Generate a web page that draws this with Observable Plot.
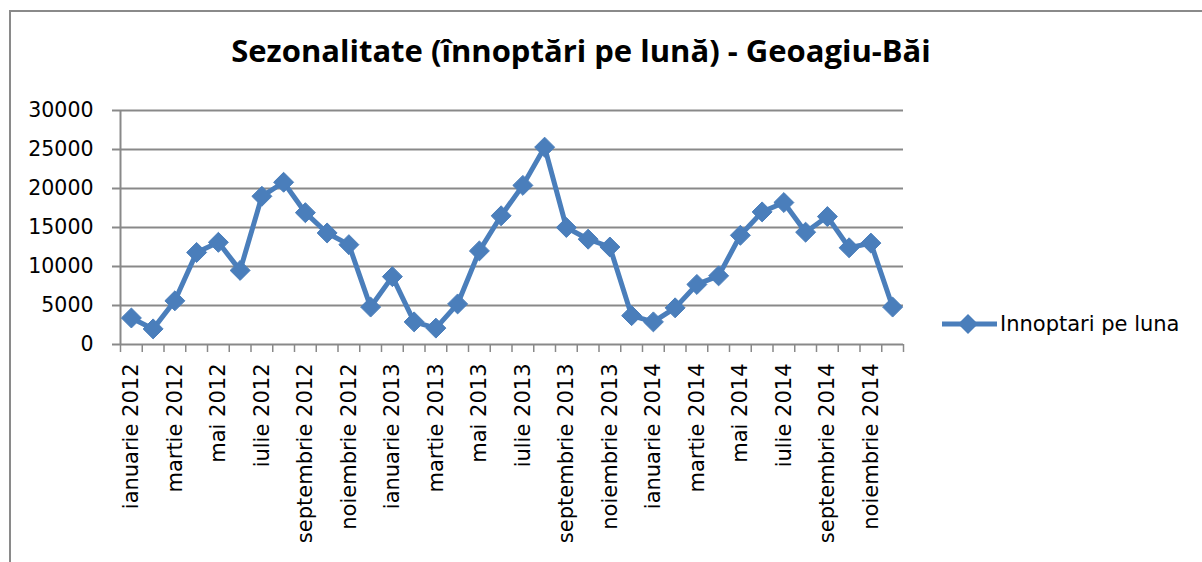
<!DOCTYPE html>
<html>
<head>
<meta charset="utf-8">
<script src="https://cdn.jsdelivr.net/npm/d3@7"></script>
<script src="https://cdn.jsdelivr.net/npm/@observablehq/plot@0.6"></script>
<style>
  html, body { margin: 0; padding: 0; background: #fff; }
  #wrap { position: relative; width: 1202px; height: 562px; overflow: hidden; font-family: "DejaVu Sans", sans-serif; }
  #frame { position: absolute; left: 9px; top: 10px; width: 1300px; height: 700px; border-left: 2px solid #8a8a8a; border-top: 2px solid #8a8a8a; }
  #title { position: absolute; left: 0; width: 1162px; top: 29px; text-align: center; font-family: "Open Sans", sans-serif; font-weight: 700; font-size: 31px; color: #000; white-space: nowrap; }
  #legend { position: absolute; left: 940px; top: 309px; height: 30px; display: flex; align-items: center; font-family: "DejaVu Sans", sans-serif; font-size: 21px; color: #000; white-space: nowrap; }
  #chart { position: absolute; left: 0; top: 0; }
  #chart svg g[aria-label="x-axis tick label"] text { font-size: 21px; }
</style>
</head>
<body>
<div id="wrap">
  <div id="frame"></div>
  <div id="chart"></div>
  <div id="title">Sezonalitate (înnoptări pe lună) - Geoagiu-Băi</div>
  <div id="legend"></div>
</div>
<script>
// ---- data ----
const months = [
  "ianuarie 2012","februarie 2012","martie 2012","aprilie 2012","mai 2012","iunie 2012",
  "iulie 2012","august 2012","septembrie 2012","octombrie 2012","noiembrie 2012","decembrie 2012",
  "ianuarie 2013","februarie 2013","martie 2013","aprilie 2013","mai 2013","iunie 2013",
  "iulie 2013","august 2013","septembrie 2013","octombrie 2013","noiembrie 2013","decembrie 2013",
  "ianuarie 2014","februarie 2014","martie 2014","aprilie 2014","mai 2014","iunie 2014",
  "iulie 2014","august 2014","septembrie 2014","octombrie 2014","noiembrie 2014","decembrie 2014"
];
const nights = [
  3400, 2000, 5600, 11800, 13100, 9500, 19000, 20800, 16900, 14300, 12800, 4800,
  8700, 2900, 2100, 5200, 12000, 16500, 20400, 25300, 15000, 13500, 12500, 3700,
  2900, 4700, 7700, 8800, 14000, 17000, 18200, 14400, 16400, 12400, 13000, 4800
];
const yTicks = [0, 5000, 10000, 15000, 20000, 25000, 30000];
const seriesName = "Innoptari pe luna";

// ---- table built from arrays ----
const data = months.map((m, i) => ({ idx: i + 0.5, month: m, value: nights[i] }));
const labelPositions = months.map((m, i) => i).filter(i => i % 2 === 0).map(i => i + 0.5);
const boundaries = d3.range(months.length + 1);

const blue = "#4a7ebb";
const gray = "#898989";

const chart = Plot.plot({
  width: 1202,
  height: 562,
  marginLeft: 120,
  marginRight: 299,
  marginTop: 110,
  marginBottom: 218,
  style: { fontFamily: "DejaVu Sans, sans-serif", fontSize: "20.5px", color: "#000", background: "transparent" },
  x: { type: "linear", domain: [0, months.length] },
  y: { type: "linear", domain: [0, 30000] },
  marks: [
    Plot.gridY(yTicks, { stroke: gray, strokeOpacity: 1, strokeWidth: 2 }),
    Plot.ruleX([0], { stroke: gray, strokeWidth: 2 }),
    Plot.axisY({ ticks: yTicks, tickSize: 8, tickPadding: 19, tickFormat: d => String(d), stroke: gray, strokeWidth: 2, label: null, fill: "#000" }),
    Plot.axisX({ ticks: boundaries, tickSize: 8, tickFormat: () => "", stroke: gray, strokeWidth: 1.5, label: null }),
    Plot.axisX({ ticks: labelPositions, tickSize: 0, tickPadding: 19, tickRotate: -90, tickFormat: d => months[Math.round(d - 0.5)], label: null, fill: "#000", fontSize: 21 }),
    Plot.line(data, { x: "idx", y: "value", stroke: blue, strokeWidth: 5, strokeLinejoin: "miter" }),
    Plot.dot(data, { x: "idx", y: "value", symbol: "diamond2", r: 9, fill: blue, stroke: blue, strokeWidth: 1 })
  ]
});
document.getElementById("chart").appendChild(chart);

// ---- legend ----
const lg = document.getElementById("legend");
lg.innerHTML = `<svg width="58" height="30" style="display:block"><line x1="2" y1="15" x2="57" y2="15" stroke="${blue}" stroke-width="5"/><path d="M28,5 L38,15 L28,25 L18,15 Z" fill="${blue}"/></svg><span style="margin-left:2px">${seriesName}</span>`;
</script>
</body>
</html>
